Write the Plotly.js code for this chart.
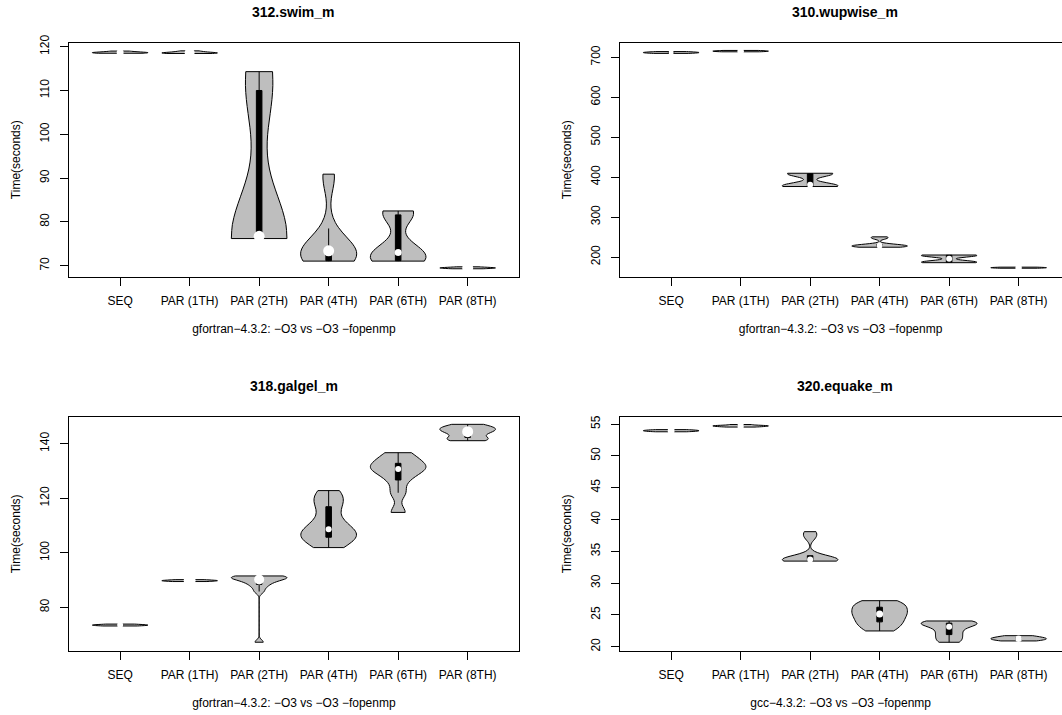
<!DOCTYPE html>
<html>
<head>
<meta charset="utf-8">
<script src="https://cdn.plot.ly/plotly-3.0.1.min.js"></script>
<style>html,body{margin:0;padding:0;background:#fff;}#chart{width:1062px;height:715px;}</style>
</head>
<body>
<div id="chart"></div>
<script>
// ---------- data ----------
const categories = ['SEQ', 'PAR (1TH)', 'PAR (2TH)', 'PAR (4TH)', 'PAR (6TH)', 'PAR (8TH)'];
const panelTitles = ['312.swim_m', '310.wupwise_m', '318.galgel_m', '320.equake_m'];
const xAxisTitles = [
  'gfortran\u22124.3.2: \u2212O3 vs \u2212O3 \u2212fopenmp',
  'gfortran\u22124.3.2: \u2212O3 vs \u2212O3 \u2212fopenmp',
  'gfortran\u22124.3.2: \u2212O3 vs \u2212O3 \u2212fopenmp',
  'gcc\u22124.3.2: \u2212O3 vs \u2212O3 \u2212fopenmp'
];
const yAxisTitle = 'Time(seconds)';
const swimTicks = [70, 80, 90, 100, 110, 120];
const wupwiseTicks = [200, 300, 400, 500, 600, 700];
const galgelTicks = [80, 100, 120, 140];
const equakeTicks = [20, 25, 30, 35, 40, 45, 50, 55];

// 312.swim_m run times (s)
const swim_SEQ  = [118.5, 118.55, 118.6, 118.65, 118.7, 118.8, 119.0];
const swim_PAR1 = [118.45, 118.5, 118.55, 118.6, 118.7, 118.85, 119.05];
const swim_PAR2 = [76.2, 76.4, 76.5, 76.6, 76.7, 77.0, 110, 112, 114.3];
const swim_PAR4 = [71.05, 71.1, 71.1, 71.15, 72.5, 73.0, 73.4, 73.8, 74.0, 74.2, 78.5, 89.8, 90.9];
const swim_PAR6 = [71.05, 71.1, 71.15, 72.2, 73.0, 74.4, 81.6, 82.1, 82.5];
const swim_PAR8 = [69.3, 69.4, 69.45, 69.5, 69.55, 69.6, 69.75];
// 310.wupwise_m
const wup_SEQ  = [709.8, 710.6, 711.3, 712, 712.6, 713.3, 714.4];
const wup_PAR1 = [713.8, 714.4, 715, 715.4, 715.9, 716.4, 717.2];
const wup_PAR2 = [376.5, 377, 377.5, 378.5, 381, 407.5, 408.5, 409.2, 409.7];
const wup_PAR4 = [224.5, 225.5, 226.5, 227.5, 229, 230, 232, 246.5, 250.5];
const wup_PAR6 = [185.8, 186.2, 186.8, 187.5, 189, 202, 203.5, 204.3, 204.7, 205];
const wup_PAR8 = [171.9, 172.5, 173, 173.2, 173.5, 174, 174.6];
// 318.galgel_m
const gal_SEQ  = [73.15, 73.3, 73.4, 73.5, 73.55, 73.6, 73.85];
const gal_PAR1 = [89.45, 89.6, 89.7, 89.8, 89.85, 89.9, 90.15];
const gal_PAR2 = [67.2, 85.8, 87.4, 88.4, 89.2, 89.7, 90.2, 90.6, 90.9, 91.1, 91.3, 91.45, 91.5];
const gal_PAR4 = [101.9, 103.8, 105.2, 105.7, 106.8, 107.8, 108.6, 110.2, 113.0, 116.9, 118.8, 120.8, 122.8];
const gal_PAR6 = [114.8, 122, 126.7, 129.5, 130.7, 131.5, 132.8, 134.5, 136.7];
const gal_PAR8 = [141.1, 141.6, 142.3, 143.8, 144.4, 145.2, 145.6, 146.2, 147.1];
// 320.equake_m
const eq_SEQ  = [53.78, 53.85, 53.9, 53.95, 54.0, 54.05, 54.12];
const eq_PAR1 = [54.52, 54.6, 54.65, 54.7, 54.75, 54.8, 54.92];
const eq_PAR2 = [33.45, 33.5, 33.55, 33.6, 33.7, 33.9, 34.3, 37.2, 38.08];
const eq_PAR4 = [22.47, 23.3, 23.9, 24.5, 25.14, 25.5, 26.2, 26.6, 27.23];
const eq_PAR6 = [20.69, 21.3, 21.9, 22.5, 23.14, 23.5, 23.7, 23.85, 24.04];
const eq_PAR8 = [20.9, 21.0, 21.1, 21.2, 21.25, 21.35, 21.45, 21.6, 21.73];

// ---------- style / layout ----------
const panels = [
  {samples: [swim_SEQ, swim_PAR1, swim_PAR2, swim_PAR4, swim_PAR6, swim_PAR8], ticks: swimTicks,
   bw: [0.15, 0.15, 10, 3.5, 2.5, 0.12], dot: [7, 10, 11, 11, 7, 11],
   yr: [67.49, 120.91], xd: [68.7, 519.1], yd: [42.7, 276.7], xr: [-0.74, 5.74]},
  {samples: [wup_SEQ, wup_PAR1, wup_PAR2, wup_PAR4, wup_PAR6, wup_PAR8], ticks: wupwiseTicks,
   bw: [1.4, 1.4, 7.5, 3, 4, 1.2], dot: [5, 6.5, 6, 6, 6, 6.5],
   yr: [150.7, 736.6], xd: [619.7, 1061.5], yd: [42.7, 276.7], xr: [-0.74, 5.617]},
  {samples: [gal_SEQ, gal_PAR1, gal_PAR2, gal_PAR4, gal_PAR6, gal_PAR8], ticks: galgelTicks,
   bw: [0.25, 0.25, 0.9, 3, 2.2, 1.0], dot: [6, 12, 10, 6, 6, 11],
   yr: [63.98, 149.9], xd: [68.7, 519.1], yd: [416.7, 651], xr: [-0.74, 5.74]},
  {samples: [eq_SEQ, eq_PAR1, eq_PAR2, eq_PAR4, eq_PAR6, eq_PAR8], ticks: equakeTicks,
   bw: [0.06, 0.06, 0.6, 0.7, 0.5, 0.25], dot: [7, 6.5, 6, 7, 6, 6.5],
   yr: [19.32, 56.15], xd: [619.7, 1061.5], yd: [416.7, 651], xr: [-0.74, 5.617]}
];
const W = 1062, H = 715;
const FONT = 'Liberation Sans, Arial, Helvetica, sans-serif';

function median(a) {
  const s = a.slice().sort((p, q) => p - q);
  const m = Math.floor(s.length / 2);
  return s.length % 2 ? s[m] : (s[m - 1] + s[m]) / 2;
}

const traces = [];
const dotTraces = [];
const layout = {
  width: W, height: H, margin: {l: 0, r: 0, t: 0, b: 0},
  paper_bgcolor: '#fff', plot_bgcolor: '#fff', showlegend: false,
  violinmode: 'overlay', font: {family: FONT, size: 12, color: '#000'},
  annotations: []
};

panels.forEach((p, k) => {
  const n = k + 1;
  const xa = 'x' + (n === 1 ? '' : n), ya = 'y' + (n === 1 ? '' : n);
  p.samples.forEach((s, i) => {
    traces.push({
      type: 'violin', x: s.map(() => categories[i]), y: s, xaxis: xa, yaxis: ya,
      width: 0.8, spanmode: 'hard', bandwidth: p.bw[i], scalemode: 'width',
      fillcolor: '#BEBEBE', line: {color: '#000', width: 1},
      points: 'outliers', marker: {opacity: 0, size: 1},
      box: {visible: true, width: 0.1, fillcolor: '#000', line: {color: '#000', width: 1}},
      meanline: {visible: false}, quartilemethod: 'inclusive',
      hoverinfo: 'skip', showlegend: false
    });
  });
  dotTraces.push({
    type: 'scatter', mode: 'markers', x: categories, y: p.samples.map(median),
    xaxis: xa, yaxis: ya, cliponaxis: false, hoverinfo: 'skip', showlegend: false,
    marker: {color: 'rgb(255,255,255)', opacity: 1, symbol: 'circle', size: p.dot, line: {width: 0}}
  });
  const common = {
    showgrid: false, zeroline: false, showline: true, mirror: true,
    linecolor: '#000', linewidth: 1, ticks: 'outside', ticklen: 8, tickwidth: 1,
    tickcolor: '#000', tickfont: {family: FONT, size: 12, color: '#000'}, fixedrange: true
  };
  layout['xaxis' + (n === 1 ? '' : n)] = Object.assign({}, common, {
    type: 'category', categoryorder: 'array', categoryarray: categories,
    range: p.xr, domain: [p.xd[0] / W, p.xd[1] / W], anchor: ya,
    ticklabelstandoff: 5,
    title: {text: xAxisTitles[k], font: {family: FONT, size: 12, color: '#000'}, standoff: 17}
  });
  layout['yaxis' + (n === 1 ? '' : n)] = Object.assign({}, common, {
    range: p.yr, tickvals: p.ticks, tickangle: -90,
    domain: [1 - p.yd[1] / H, 1 - p.yd[0] / H], anchor: xa,
    ticklabelstandoff: 6,
    title: {text: yAxisTitle, font: {family: FONT, size: 12, color: '#000'}, standoff: 14}
  });
  layout.annotations.push({
    text: '<b>' + panelTitles[k] + '</b>', xref: 'paper', yref: 'paper',
    x: ((p.xd[0] + (k % 2 ? 1070 : p.xd[1])) / 2) / W, y: 1 - (p.yd[0] - 30.4) / H,
    xanchor: 'center', yanchor: 'middle', showarrow: false,
    font: {family: FONT, size: 14, color: '#000'}
  });
});

Plotly.newPlot('chart', traces.concat(dotTraces), layout, {staticPlot: true, displayModeBar: false});
</script>
</body>
</html>
